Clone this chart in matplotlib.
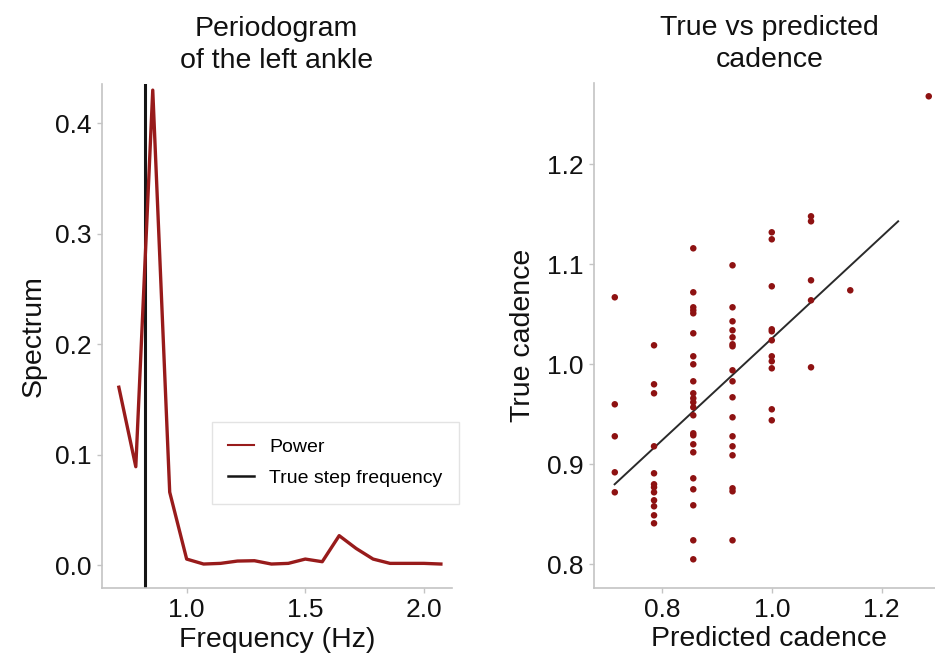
import matplotlib
matplotlib.use("Agg")
import matplotlib.pyplot as plt
from matplotlib.lines import Line2D
import numpy as np

plt.rcParams['font.family'] = ['Liberation Sans', 'DejaVu Sans']

# ---- Left panel data: periodogram ----
freq_hz = [10/14, 11/14, 12/14, 13/14, 14/14, 15/14, 16/14, 17/14, 18/14, 19/14,
           20/14, 21/14, 22/14, 23/14, 24/14, 25/14, 26/14, 27/14, 28/14, 29/14]
power = [0.161, 0.089, 0.430, 0.066, 0.0054, 0.0009, 0.0015, 0.0036, 0.0039, 0.0009,
         0.0015, 0.0054, 0.0030, 0.0266, 0.0150, 0.0054, 0.0015, 0.0015, 0.0015, 0.0009]
true_step_freq = 0.8235

# ---- Right panel data: true vs predicted cadence ----
pred_cols = [10/14, 11/14, 12/14, 13/14, 14/14, 15/14, 16/14, 18/14]
true_by_col = [
    [1.067, 0.960, 0.928, 0.892, 0.872],
    [1.019, 0.980, 0.971, 0.918, 0.891, 0.880, 0.877, 0.872, 0.864, 0.858, 0.849, 0.841],
    [1.116, 1.072, 1.057, 1.054, 1.051, 1.031, 1.008, 1.000, 0.983, 0.971, 0.966, 0.962,
     0.957, 0.949, 0.931, 0.929, 0.920, 0.912, 0.886, 0.875, 0.859, 0.824, 0.805],
    [1.099, 1.057, 1.043, 1.034, 1.027, 1.020, 1.018, 0.994, 0.983, 0.967, 0.947, 0.928,
     0.918, 0.909, 0.876, 0.873, 0.824],
    [1.132, 1.125, 1.078, 1.035, 1.033, 1.024, 1.008, 1.003, 0.996, 0.955, 0.944],
    [1.148, 1.143, 1.084, 1.064, 0.997],
    [1.074],
    [1.268],
]
fit_x = [0.714, 1.230]
fit_y = [0.880, 1.143]

pred = []
true = []
for xc, ys in zip(pred_cols, true_by_col):
    pred += [xc] * len(ys)
    true += ys

RED = '#981b1b'
DOT = '#8e1212'
SPINE = '#c4c4c4'
TXT = '#111111'

fig = plt.figure(figsize=(9.35, 6.58), dpi=100)
W, H = 935, 658
ax1 = fig.add_axes([101.7 / W, 1 - 588 / H, 350 / W, (588 - 83.5) / H])
ax2 = fig.add_axes([594.3 / W, 1 - 587.7 / H, 350 / W, (587.7 - 82.7) / H])

for ax in (ax1, ax2):
    for s in ('top', 'right'):
        ax.spines[s].set_visible(False)
    for s in ('left', 'bottom'):
        ax.spines[s].set_color(SPINE)
        ax.spines[s].set_linewidth(1.2)
    ax.tick_params(axis='both', which='major', labelsize=19, length=3.5,
                   width=1, color=SPINE, labelcolor=TXT, pad=4)

# Left
ax1.plot(freq_hz, power, color=RED, lw=2.4, zorder=3)
ax1.axvline(true_step_freq, color='#151515', lw=2.2, zorder=2)
ax1.set_xlim(0.642, 2.117)
ax1.set_ylim(-0.0208, 0.436)
ax1.set_xticks([1.0, 1.5, 2.0])
ax1.set_yticks([0.0, 0.1, 0.2, 0.3, 0.4])
ax1.set_title('Periodogram\nof the left ankle', fontsize=20.5, pad=11, color=TXT,
              linespacing=1.3)
ax1.set_xlabel('Frequency (Hz)', fontsize=20.5, labelpad=3, color=TXT)
ax1.set_ylabel('Spectrum', fontsize=20.5, labelpad=6, color=TXT)
handles = [Line2D([], [], color=RED, lw=1.5), Line2D([], [], color='#151515', lw=1.8)]
leg = ax1.legend(handles, ['Power', 'True step frequency'], loc='upper left',
                 bbox_to_anchor=(211.7 / W, 1 - 421.7 / H), bbox_transform=fig.transFigure,
                 borderaxespad=0, fontsize=14, frameon=True, fancybox=False,
                 edgecolor='#dddddd', handlelength=1.3, borderpad=0.85,
                 labelspacing=0.7, handletextpad=0.8)
leg.get_frame().set_linewidth(1.0)

# Right
ax2.scatter(pred, true, s=22, color=DOT, edgecolors='none', zorder=3)
ax2.plot(fit_x, fit_y, color='#2a2a2a', lw=1.4, zorder=2)
ax2.set_xlim(0.677, 1.314)
ax2.set_ylim(0.7766, 1.2816)
ax2.set_xticks([0.8, 1.0, 1.2])
ax2.set_yticks([0.8, 0.9, 1.0, 1.1, 1.2])
ax2.set_title('True vs predicted\ncadence', fontsize=20.5, pad=11, color=TXT,
              linespacing=1.3)
ax2.set_xlabel('Predicted cadence', fontsize=20.5, labelpad=3, color=TXT)
ax2.set_ylabel('True cadence', fontsize=20.5, labelpad=8, color=TXT)

fig.savefig('out.png', dpi=100)
